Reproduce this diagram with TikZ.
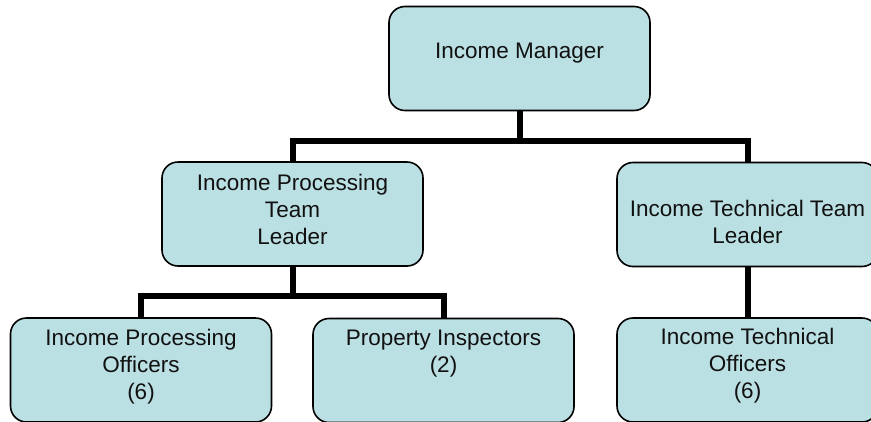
\documentclass[tikz,border=0pt]{standalone}
\usepackage{fontspec}
\setmainfont{Liberation Sans}
\definecolor{boxfill}{HTML}{BBE0E3}
\definecolor{txt}{HTML}{111111}
\begin{document}
\begin{tikzpicture}[x=1pt,y=-1pt,
  orgbox/.style={draw=black, line width=1.6pt, fill=boxfill, rounded corners=16pt,
    minimum width=261pt, minimum height=104pt, inner sep=0pt},
  lbl/.style={anchor=base, inner sep=0pt, text=txt,
    font=\fontsize{22.5}{27}\selectfont},
  conn/.style={draw=black, line width=6pt, line join=miter}]
\useasboundingbox (0,0) rectangle (871,421);
\clip (0,0) rectangle (871,421);
\fill[white] (0,0) rectangle (871,421);
% boxes
\node[orgbox] (mgr) at (519.5,58.5) {};
\node[orgbox] (ipl) at (292.5,214) {};
\node[orgbox] (itl) at (747.5,214.5) {};
\node[orgbox] (ipo) at (141,370) {};
\node[orgbox] (pi) at (443.5,370.5) {};
\node[orgbox] (ito) at (747.5,370) {};
% connectors
\coordinate (bar1) at (519.5,141);
\coordinate (bar2) at (292.5,296);
\draw[conn] (mgr.south) -- (bar1) -| (ipl.north);
\draw[conn] (bar1) -| (itl.north);
\draw[conn] (ipl.south) -- (bar2) -| (ipo.north);
\draw[conn] (bar2) -| (pi.north);
\draw[conn] (itl.south) -- (ito.north);
% labels
\node[lbl] (tmgr) at (519.5,58) {Income Manager};
\node[lbl] (tipl) at (292.5,190) {\begin{tabular}[t]{@{}c@{}}Income Processing\\Team\\Leader\end{tabular}};
\node[lbl] (titl) at (747.5,216) {\begin{tabular}[t]{@{}c@{}}Income Technical Team\\Leader\end{tabular}};
\node[lbl] (tipo) at (141,345) {\begin{tabular}[t]{@{}c@{}}Income Processing\\Officers\\(6)\end{tabular}};
\node[lbl] (tpi) at (443.5,345) {\begin{tabular}[t]{@{}c@{}}Property Inspectors\\(2)\end{tabular}};
\node[lbl] (tito) at (747.5,344) {\begin{tabular}[t]{@{}c@{}}Income Technical\\Officers\\(6)\end{tabular}};
\end{tikzpicture}
\end{document}
